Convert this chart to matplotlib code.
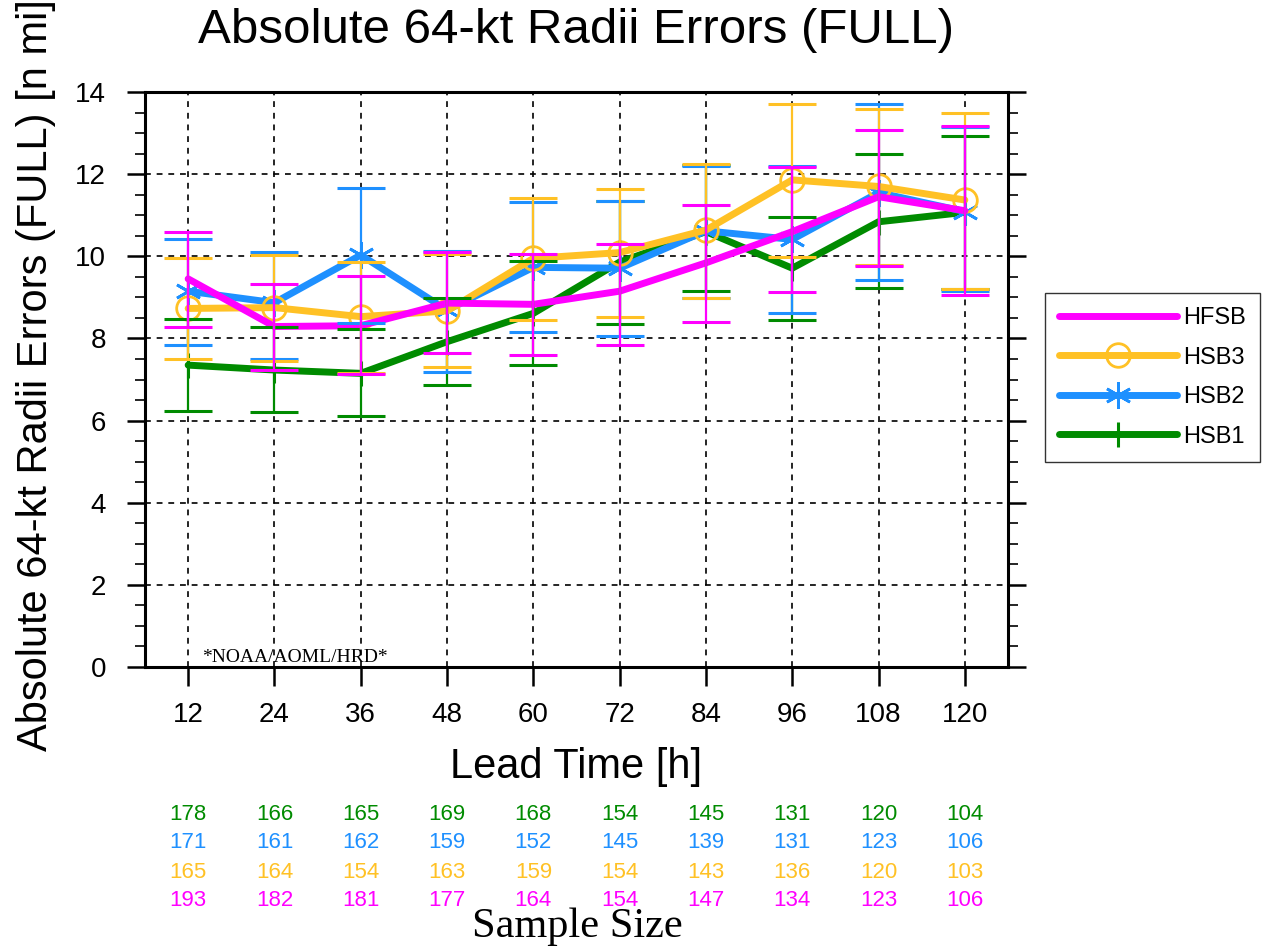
import matplotlib
matplotlib.use("Agg")
import matplotlib.pyplot as plt
from matplotlib.ticker import MultipleLocator
import matplotlib.transforms as mtransforms

# lead times and tick labels
lead_times = [12, 24, 36, 48, 60, 72, 84, 96, 108, 120]
tick_labels = [str(t) for t in lead_times]

# mean absolute 64-kt radii errors [n mi] and confidence bounds
hfsb_mean = [9.45, 8.29, 8.31, 8.86, 8.83, 9.15, 9.84, 10.60, 11.45, 11.11]
hfsb_lo = [8.29, 7.23, 7.13, 7.65, 7.60, 7.84, 8.40, 9.14, 9.77, 9.06]
hfsb_hi = [10.60, 9.33, 9.52, 10.10, 10.05, 10.31, 11.26, 12.17, 13.07, 13.17]

hsb3_mean = [8.73, 8.75, 8.53, 8.67, 9.95, 10.09, 10.64, 11.86, 11.70, 11.37]
hsb3_lo = [7.49, 7.45, 7.15, 7.31, 8.45, 8.51, 8.98, 9.99, 9.80, 9.21]
hsb3_hi = [9.95, 10.03, 9.87, 10.05, 11.41, 11.64, 12.25, 13.71, 13.59, 13.50]

hsb2_mean = [9.15, 8.87, 10.03, 8.69, 9.73, 9.71, 10.62, 10.41, 11.55, 11.09]
hsb2_lo = [7.84, 7.50, 8.37, 7.19, 8.15, 8.07, 8.98, 8.63, 9.42, 9.16]
hsb2_hi = [10.42, 10.11, 11.67, 10.14, 11.31, 11.35, 12.20, 12.20, 13.71, 13.15]

hsb1_mean = [7.35, 7.23, 7.15, 7.92, 8.61, 9.86, 10.60, 9.71, 10.84, 11.07]
hsb1_lo = [6.23, 6.22, 6.11, 6.86, 7.35, 8.34, 9.15, 8.44, 9.22, 9.20]
hsb1_hi = [8.47, 8.27, 8.22, 8.99, 9.89, 11.34, 12.22, 10.96, 12.49, 12.94]

# sample sizes per lead time
hsb1_n = [178, 166, 165, 169, 168, 154, 145, 131, 120, 104]
hsb2_n = [171, 161, 162, 159, 152, 145, 139, 131, 123, 106]
hsb3_n = [165, 164, 154, 163, 159, 154, 143, 136, 120, 103]
hfsb_n = [193, 182, 181, 177, 164, 154, 147, 134, 123, 106]

C_MAG = "#FF00FF"
C_YEL = "#FFC125"
C_BLU = "#1E90FF"
C_GRN = "#008B00"

W, H = 1267, 949

plt.rcParams["font.family"] = ["Liberation Sans", "DejaVu Sans"]

fig = plt.figure(figsize=(W / 100, H / 100), dpi=100)
ax = fig.add_axes([145 / W, 1 - 667 / H, (1008 - 145) / W, (667 - 92) / H])

# series drawn bottom to top: HSB1, HSB2, HSB3, HFSB
series = [
    ("HSB1", hsb1_mean, hsb1_lo, hsb1_hi, C_GRN,
     dict(marker="|", markersize=18, markeredgewidth=2.2)),
    ("HSB2", hsb2_mean, hsb2_lo, hsb2_hi, C_BLU,
     dict(marker=(6, 2, 0), markersize=19, markeredgewidth=2)),
    ("HSB3", hsb3_mean, hsb3_lo, hsb3_hi, C_YEL,
     dict(marker="o", markersize=17, markerfacecolor="none", markeredgewidth=2)),
    ("HFSB", hfsb_mean, hfsb_lo, hfsb_hi, C_MAG,
     dict(marker=".", markersize=4)),
]

handles = {}
for name, mean, lo, hi, col, mk in series:
    line, = ax.plot(lead_times, mean, color=col, linewidth=5,
                    solid_capstyle="round", zorder=3, label=name, **mk)
    handles[name] = line

for name, mean, lo, hi, col, mk in series:
    yerr = [[m - l for m, l in zip(mean, lo)], [h - m for m, h in zip(mean, hi)]]
    ax.errorbar(lead_times, mean, yerr=yerr, fmt="none", ecolor=col,
                elinewidth=1.6, capsize=17, capthick=2.2, zorder=4)

ax.set_xlim(6, 126)
ax.set_ylim(0, 14)
ax.set_xticks(lead_times)
ax.set_xticklabels(tick_labels)
ax.yaxis.set_major_locator(MultipleLocator(2))
ax.yaxis.set_minor_locator(MultipleLocator(0.5))
ax.grid(True, which="major", color="black", linestyle=(0, (3.5, 3.5)), linewidth=1.2)

ax.tick_params(axis="x", which="major", direction="out", length=14, width=1.8,
               labelsize=20, pad=11, top=False)
ax.tick_params(axis="y", which="major", direction="out", length=13, width=1.8,
               labelsize=20, pad=15, right=True)
ax.tick_params(axis="y", which="minor", direction="out", length=7, width=1.2,
               right=True)
for sp in ax.spines.values():
    sp.set_linewidth(2.2)

ax.set_title("Absolute 64-kt Radii Errors (FULL)", fontsize=35.5, pad=35)
ax.set_ylabel("Absolute 64-kt Radii Errors (FULL) [n mi]", fontsize=30, labelpad=13.5)
ax.yaxis.label.set_y(0.508)
ax.set_xlabel("Lead Time [h]", fontsize=30, labelpad=14)

ax.text(14.0, 0.02, "*NOAA/AOML/HRD*", family="Liberation Serif", fontsize=14,
        ha="left", va="bottom")

leg = fig.legend([handles[k] for k in ["HFSB", "HSB3", "HSB2", "HSB1"]],
                 ["HFSB", "HSB3", "HSB2", "HSB1"],
                 loc="upper left", bbox_to_anchor=(1045 / W, 1 - 293 / H),
                 fontsize=17, frameon=True, fancybox=False, edgecolor="black",
                 handlelength=5.0, labelspacing=0.74, borderpad=0.6,
                 borderaxespad=0, handletextpad=0.25)
leg.get_frame().set_linewidth(1.0)

# sample size table below the axes
trans = mtransforms.blended_transform_factory(ax.transData, fig.transFigure)
rows = [(hsb1_n, C_GRN), (hsb2_n, C_BLU), (hsb3_n, C_YEL), (hfsb_n, C_MAG)]
row_y = [814, 843, 872, 900]
for (vals, col), yp in zip(rows, row_y):
    for x, v in zip(lead_times, vals):
        ax.text(x, 1 - yp / H, str(v), color=col, fontsize=16,
                ha="center", va="center", transform=trans)

fig.text(577 / W, 1 - 937 / H, "Sample Size", family="Liberation Serif",
         fontsize=30.5, ha="center", va="baseline")

fig.savefig("out.png", dpi=100)
